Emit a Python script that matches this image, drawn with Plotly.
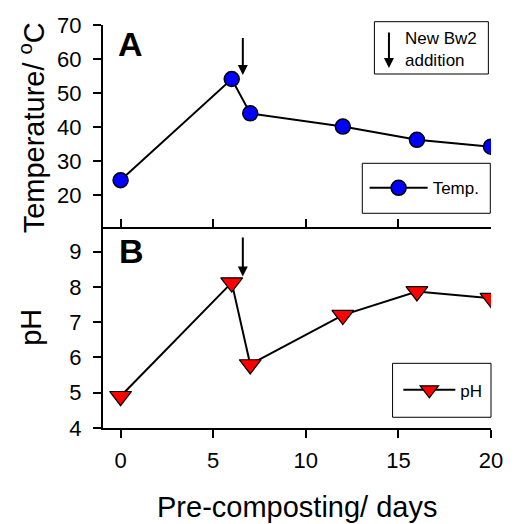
import plotly.graph_objects as go

# ---- data ----
days = [0, 6, 7, 12, 16, 20]
temperature = [24.3, 54.1, 44.0, 40.1, 36.2, 34.2]
ph = [4.9, 8.12, 5.8, 7.2, 7.87, 7.68]
x_ticks = [0, 5, 10, 15, 20]
temp_ticks = [20, 30, 40, 50, 60, 70]
ph_ticks = [4, 5, 6, 7, 8, 9]
addition_day = 6.6

FONT = "Liberation Sans, Arial, sans-serif"

fig = go.Figure()
fig.add_trace(go.Scatter(
    x=days, y=temperature, name="Temp.", mode="lines+markers",
    line=dict(color="black", width=2),
    marker=dict(symbol="circle", size=15, color="#0000ff", line=dict(color="black", width=1.5)),
    xaxis="x", yaxis="y", legend="legend"))
fig.add_trace(go.Scatter(
    x=days, y=ph, name="pH", mode="lines+markers",
    line=dict(color="black", width=2),
    marker=dict(symbol="triangle-down", size=19, color="#ff0000", line=dict(color="black", width=1.2)),
    xaxis="x2", yaxis="y2", legend="legend2"))

axis_common = dict(showgrid=False, zeroline=False, showline=True, linecolor="black",
                   linewidth=2, tickcolor="black", tickwidth=2, ticklen=8,
                   tickfont=dict(family=FONT, size=22, color="black"))

fig.update_layout(
    width=515, height=524,
    margin=dict(l=103, r=15, t=25, b=96),
    paper_bgcolor="white", plot_bgcolor="white",
    font=dict(family=FONT, color="black"),
    xaxis=dict(domain=[0, 1], anchor="y", range=[-0.95, 20], tickvals=x_ticks,
               ticks="inside", showticklabels=False, **axis_common),
    yaxis=dict(domain=[0.5, 1], anchor="x", range=[10.7, 70], tickvals=temp_ticks,
               ticks="outside", ticklabelstandoff=7, **axis_common),
    xaxis2=dict(domain=[0, 1], anchor="y2", range=[-0.95, 20], tickvals=x_ticks,
                ticks="outside", ticklabelstandoff=4, **axis_common),
    yaxis2=dict(domain=[0, 0.5], anchor="x2", range=[4, 9.71], tickvals=ph_ticks,
                ticks="outside", ticklabelstandoff=7, **axis_common),
    legend=dict(x=0.6743, y=0.5948, xanchor="left", yanchor="middle",
                borderwidth=0, bgcolor="rgba(0,0,0,0)", itemwidth=58,
                font=dict(family=FONT, size=17, color="black")),
    legend2=dict(x=0.7612, y=0.0935, xanchor="left", yanchor="middle",
                 borderwidth=0, bgcolor="rgba(0,0,0,0)", itemwidth=52,
                 font=dict(family=FONT, size=17, color="black")),
    showlegend=True,
)

annotations = [
    # axis titles
    dict(text="Temperature/ <sup>o</sup>C", xref="paper", yref="paper", x=-0.184, y=0.745,
         textangle=-90, showarrow=False, xanchor="center", yanchor="middle",
         font=dict(family=FONT, size=29)),
    dict(text="pH", xref="paper", yref="paper", x=-0.184, y=0.25,
         textangle=-90, showarrow=False, xanchor="center", yanchor="middle",
         font=dict(family=FONT, size=29)),
    dict(text="Pre-composting/ days", xref="paper", yref="paper", x=0.5, y=-0.196,
         showarrow=False, xanchor="center", yanchor="middle",
         font=dict(family=FONT, size=29)),
    # panel labels
    dict(text="<b>A</b>", xref="paper", yref="paper", x=0.072, y=0.952,
         showarrow=False, xanchor="center", yanchor="middle", font=dict(family=FONT, size=34)),
    dict(text="<b>B</b>", xref="paper", yref="paper", x=0.074, y=0.44,
         showarrow=False, xanchor="center", yanchor="middle", font=dict(family=FONT, size=34)),
    # addition arrows
    dict(x=addition_day, y=55.3, ax=addition_day, ay=66.6, xref="x", yref="y", axref="x", ayref="y",
         text="", showarrow=True, arrowhead=2, arrowsize=1, arrowwidth=2, arrowcolor="black", standoff=0),
    dict(x=addition_day, y=8.29, ax=addition_day, ay=9.44, xref="x2", yref="y2", axref="x2", ayref="y2",
         text="", showarrow=True, arrowhead=2, arrowsize=1, arrowwidth=2, arrowcolor="black", standoff=0),
    # legend box for arrow
    dict(x=0.737, y=0.8933, xref="paper", yref="paper", ax=0, ay=-37, text="",
         showarrow=True, arrowhead=2, arrowsize=1, arrowwidth=2, arrowcolor="black", standoff=0),
    dict(text="New Bw2<br>addition", xref="paper", yref="paper", x=0.7733, y=0.9392,
         showarrow=False, xanchor="left", yanchor="middle", align="left",
         font=dict(family=FONT, size=17)),
]
fig.update_layout(annotations=annotations)
# legend frames
fig.add_shape(type="rect", xref="paper", yref="paper", x0=0.6995, x1=0.9932, y0=0.8784, y1=1.0082,
              line=dict(color="black", width=1), fillcolor="rgba(0,0,0,0)")
fig.add_shape(type="rect", xref="paper", yref="paper", x0=0.6683, x1=0.9982, y0=0.5328, y1=0.6568,
              line=dict(color="black", width=1), fillcolor="rgba(0,0,0,0)")
fig.add_shape(type="rect", xref="paper", yref="paper", x0=0.7463, x1=1.0, y0=0.0266, y1=0.1605,
              line=dict(color="black", width=1), fillcolor="rgba(0,0,0,0)")

fig.write_html("out.html")
